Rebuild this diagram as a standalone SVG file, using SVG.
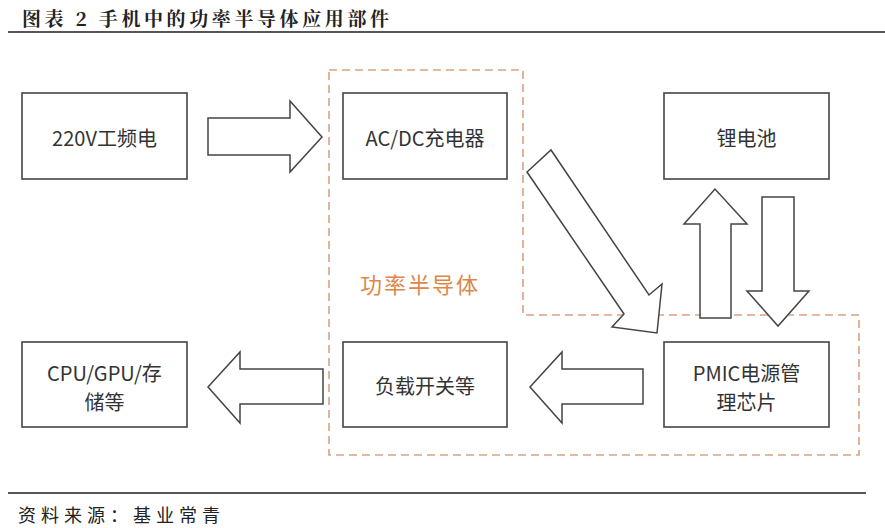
<svg xmlns="http://www.w3.org/2000/svg" width="885" height="528" viewBox="0 0 885 528">
<style>
.box{fill:#fff;stroke:#444;stroke-width:1.6}
.arr{fill:#fff;stroke:#444;stroke-width:1.5;stroke-linejoin:miter}
.lbl{font-family:"Noto Sans CJK SC","Noto Sans",sans-serif;font-size:20px;fill:#333;text-anchor:middle;dominant-baseline:central}
.title{font-family:"Noto Serif CJK SC","Noto Sans CJK SC",serif;font-size:19px;font-weight:bold;fill:#222}
.src{font-family:"Noto Sans CJK SC",sans-serif;font-size:18px;fill:#222}
</style>
<rect width="885" height="528" fill="#fff"/>
<text class="title" x="22" y="26" letter-spacing="3.6">图表 2  手机中的功率半导体应用部件</text>
<line x1="8" y1="32" x2="885" y2="32" stroke="#555" stroke-width="2"/>

<path id="region" d="M329,70 H523 V315 H859 V455 H329 Z" fill="none" stroke="#d9a283" stroke-width="1.6" stroke-dasharray="8,5"/>
<text x="420" y="283" font-family="'Noto Sans CJK SC',sans-serif" font-size="22" fill="#e0864a" text-anchor="middle" dominant-baseline="central" letter-spacing="2">功率半导体</text>

<g id="connectors">
<polygon class="arr" points="208,118 290,118 290,101 322,137 290,172 290,155 208,155"/>
<polygon class="arr" points="323,369 240,369 240,352 208,387 240,423 240,404 323,404"/>
<polygon class="arr" points="643,369 562,369 562,352 530,387 562,423 562,404 643,404"/>
<polygon class="arr" points="527,172 551,150 649,295 662,284 657,333 612,327 624,314"/>
<polygon class="arr" points="700,318 700,224 684,224 715,189 747,224 731,224 731,318"/>
<polygon class="arr" points="762,197 794,197 794,291 809,291 778,326 747,291 762,291"/>
</g>

<g id="n220v"><rect class="box" x="22" y="93" width="165" height="86"/><text class="lbl" x="104.5" y="137">220V工频电</text></g>
<g id="nacdc"><rect class="box" x="343" y="93" width="164" height="86"/><text class="lbl" x="425" y="137">AC/DC充电器</text></g>
<g id="nbat"><rect class="box" x="664" y="93" width="165" height="86"/><text class="lbl" x="746.5" y="137">锂电池</text></g>
<g id="ncpu"><rect class="box" x="22" y="342" width="165" height="85"/><text class="lbl" x="104.5" y="372">CPU/GPU/存</text><text class="lbl" x="104.5" y="401">储等</text></g>
<g id="nload"><rect class="box" x="343" y="342" width="164" height="85"/><text class="lbl" x="425" y="385">负载开关等</text></g>
<g id="npmic"><rect class="box" x="664" y="342" width="165" height="85"/><text class="lbl" x="746.5" y="372">PMIC电源管</text><text class="lbl" x="746.5" y="401">理芯片</text></g>

<line x1="8" y1="493" x2="866" y2="493" stroke="#555" stroke-width="2"/>
<text class="src" x="18" y="522" letter-spacing="5">资料来源：基业常青</text>
</svg>
